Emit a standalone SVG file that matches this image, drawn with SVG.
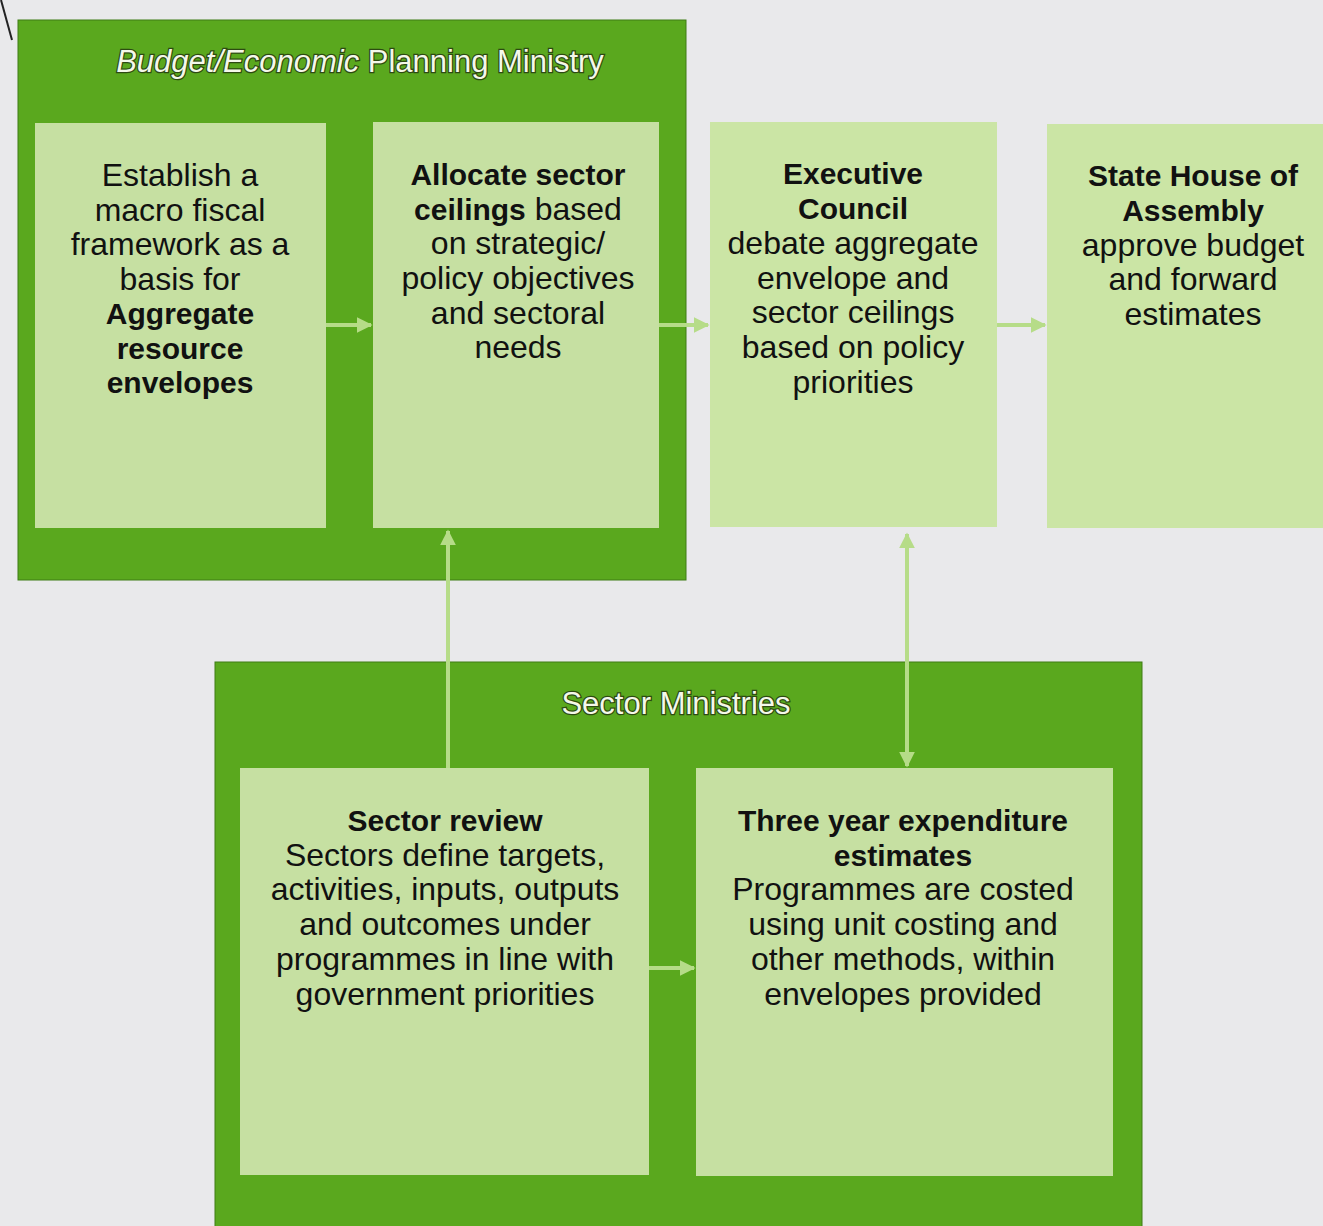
<svg xmlns="http://www.w3.org/2000/svg" width="1323" height="1226" viewBox="0 0 1323 1226">
<defs>
<style>
.bg{fill:#e9e9eb}
.grp{fill:#5aa81e;stroke:#3f7d14;stroke-width:1}
.box{fill:#c6e0a2}
.boxo{fill:#cbe5a5}
.t{font-family:"Liberation Sans",Arial,sans-serif;font-size:32px;fill:#111;text-anchor:middle}
.b{font-weight:bold;font-size:30px}
.h{font-family:"Liberation Sans",Arial,sans-serif;font-size:31px;fill:#f4f8ea;text-anchor:middle;stroke:#2d4a12;stroke-width:2.5px;paint-order:stroke}
.c{stroke:#b6dc88;stroke-width:4;fill:none}
</style>
<marker id="ah" viewBox="0 0 10 10" refX="9" refY="5" markerWidth="4" markerHeight="4" orient="auto-start-reverse" markerUnits="strokeWidth">
<path d="M0,0 L10,5 L0,10 z" fill="#b6dc88"/>
</marker>
</defs>
<rect class="bg" x="0" y="0" width="1323" height="1226"/>
<line x1="1" y1="0" x2="12" y2="40" stroke="#222" stroke-width="2"/>

<g id="budget-ministry">
<rect class="grp" x="18" y="20" width="668" height="560"/>
<text class="h" x="360" y="72"><tspan font-style="italic">Budget/Economic</tspan> Planning Ministry</text>
</g>

<g id="sector-ministries">
<rect class="grp" x="215" y="662" width="927" height="570"/>
<text class="h" x="676" y="714" font-size="32">Sector Ministries</text>
</g>

<g id="establish">
<rect class="box" x="35" y="123" width="291" height="405"/>
<text class="t" x="180" y="186">Establish a</text>
<text class="t" x="180" y="221">macro fiscal</text>
<text class="t" x="180" y="255">framework as a</text>
<text class="t" x="180" y="290">basis for</text>
<text class="t b" x="180" y="324">Aggregate</text>
<text class="t b" x="180" y="359">resource</text>
<text class="t b" x="180" y="393">envelopes</text>
</g>

<g id="allocate">
<rect class="box" x="373" y="122" width="286" height="406"/>
<text class="t b" x="518" y="185">Allocate sector</text>
<text class="t" x="518" y="220"><tspan class="b">ceilings</tspan> based</text>
<text class="t" x="518" y="254">on strategic/</text>
<text class="t" x="518" y="289">policy objectives</text>
<text class="t" x="518" y="324">and sectoral</text>
<text class="t" x="518" y="358">needs</text>
</g>

<g id="executive">
<rect class="boxo" x="710" y="122" width="287" height="405"/>
<text class="t b" x="853" y="184">Executive</text>
<text class="t b" x="853" y="219">Council</text>
<text class="t" x="853" y="254">debate aggregate</text>
<text class="t" x="853" y="289">envelope and</text>
<text class="t" x="853" y="323">sector ceilings</text>
<text class="t" x="853" y="358">based on policy</text>
<text class="t" x="853" y="393">priorities</text>
</g>

<g id="assembly">
<rect class="boxo" x="1047" y="124" width="276" height="404"/>
<text class="t b" x="1193" y="186">State House of</text>
<text class="t b" x="1193" y="221">Assembly</text>
<text class="t" x="1193" y="256">approve budget</text>
<text class="t" x="1193" y="290">and forward</text>
<text class="t" x="1193" y="325">estimates</text>
</g>

<g id="sector-review">
<rect class="box" x="240" y="768" width="409" height="407"/>
<text class="t b" x="445" y="831">Sector review</text>
<text class="t" x="445" y="866">Sectors define targets,</text>
<text class="t" x="445" y="900">activities, inputs, outputs</text>
<text class="t" x="445" y="935">and outcomes under</text>
<text class="t" x="445" y="970">programmes in line with</text>
<text class="t" x="445" y="1005">government priorities</text>
</g>

<g id="three-year">
<rect class="box" x="696" y="768" width="417" height="408"/>
<text class="t b" x="903" y="831">Three year expenditure</text>
<text class="t b" x="903" y="866">estimates</text>
<text class="t" x="903" y="900">Programmes are costed</text>
<text class="t" x="903" y="935">using unit costing and</text>
<text class="t" x="903" y="970">other methods, within</text>
<text class="t" x="903" y="1005">envelopes provided</text>
</g>

<g id="connectors">
<line class="c" x1="326" y1="325" x2="371" y2="325" marker-end="url(#ah)"/>
<line class="c" x1="659" y1="325" x2="708" y2="325" marker-end="url(#ah)"/>
<line class="c" x1="997" y1="325" x2="1045" y2="325" marker-end="url(#ah)"/>
<line class="c" x1="649" y1="968" x2="694" y2="968" marker-end="url(#ah)"/>
<line class="c" x1="448" y1="768" x2="448" y2="531" marker-end="url(#ah)"/>
<line class="c" x1="907" y1="534" x2="907" y2="766" marker-start="url(#ah)" marker-end="url(#ah)"/>
</g>
</svg>
